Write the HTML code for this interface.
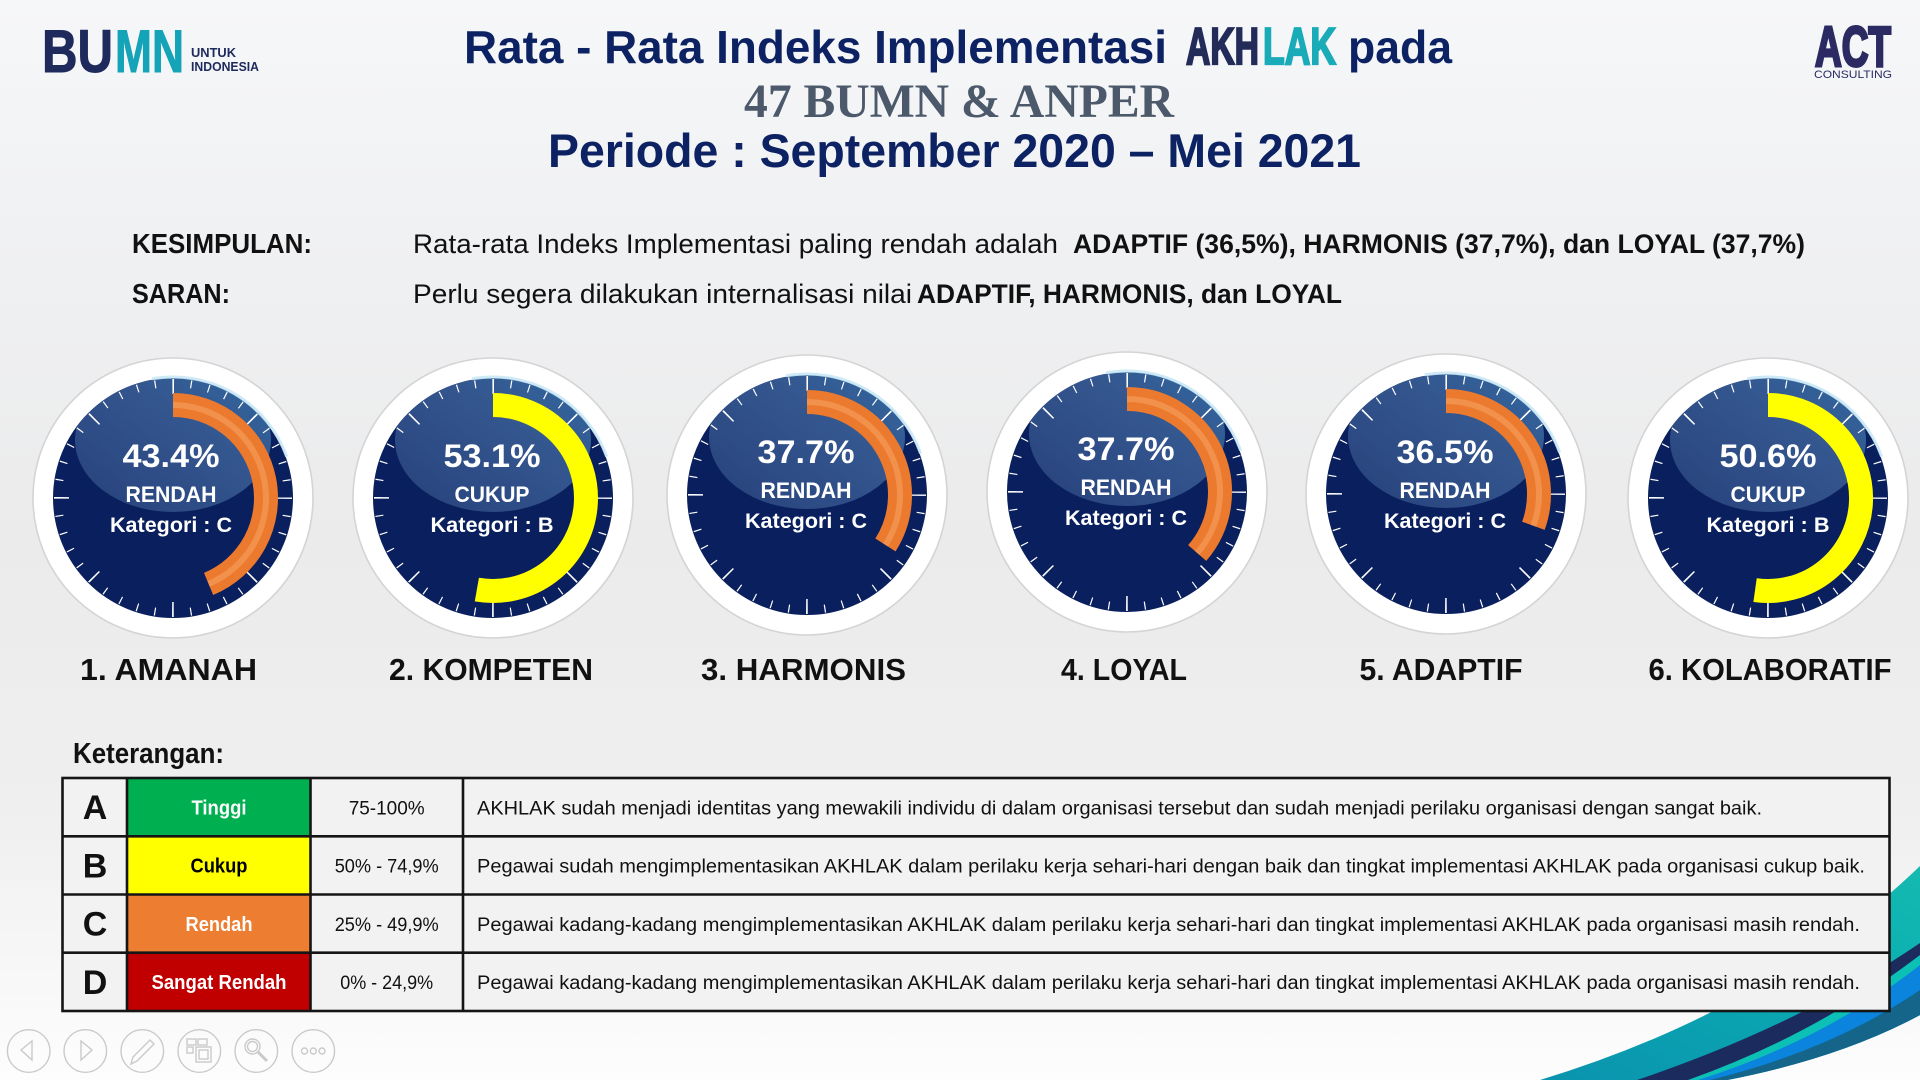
<!DOCTYPE html>
<html>
<head>
<meta charset="utf-8">
<style>
  html,body{margin:0;padding:0;background:#eeeeee;}
  svg{display:block;}
  text{font-family:"Liberation Sans", Arial, sans-serif;}
</style>
</head>
<body>
<svg width="1920" height="1080" viewBox="0 0 1920 1080" xmlns="http://www.w3.org/2000/svg">
  <defs>
    <linearGradient id="bg" x1="0" y1="0" x2="0" y2="1">
      <stop offset="0" stop-color="#f6f7f9"/>
      <stop offset="0.25" stop-color="#eff0f2"/>
      <stop offset="0.5" stop-color="#ebebeb"/>
      <stop offset="0.75" stop-color="#efefef"/>
      <stop offset="1" stop-color="#fdfdfd"/>
    </linearGradient>
    <linearGradient id="hl" x1="0" y1="1" x2="1" y2="0">
      <stop offset="0" stop-color="#27417b"/>
      <stop offset="0.6" stop-color="#34568f"/>
      <stop offset="1" stop-color="#3169a0"/>
    </linearGradient>
    <linearGradient id="teal" x1="0" y1="1" x2="1" y2="0">
      <stop offset="0" stop-color="#0a93ae"/>
      <stop offset="0.6" stop-color="#0aaab2"/>
      <stop offset="1" stop-color="#14bbb0"/>
    </linearGradient>
    <clipPath id="dialclip"><circle cx="0" cy="0" r="120"/></clipPath>
    <g id="gbase">
      <circle r="140" fill="#ffffff" stroke="#d4d4d4" stroke-width="1.6"/>
      <circle r="120" fill="#0a1f5d"/>
      <ellipse cx="0" cy="-58" rx="98" ry="72" fill="url(#hl)" clip-path="url(#dialclip)"/>
      <path d="M-21,-119.2 A121,121 0 0 1 113.7,-41.4" fill="none" stroke="#c6e6f6" stroke-width="3" opacity="0.85"/>
      <circle r="115" fill="none" stroke="#ffffff" stroke-width="8" stroke-dasharray="1.2 16.864" stroke-dashoffset="0.6"/>
      <circle r="111.5" fill="none" stroke="#ffffff" stroke-width="15" stroke-dasharray="1.6 85.972" stroke-dashoffset="0.8"/>
    </g>
  </defs>

  <!-- background -->
  <rect x="0" y="0" width="1920" height="1080" fill="url(#bg)"/>

  <!-- bottom-right swoosh -->
  <path d="M1540,1080 Q1770,1010 1920,866 L1920,1015 Q1840,1058 1727,1080 Z" fill="url(#teal)"/>
  <path d="M1637,1080 Q1800,1025 1920,943 L1920,1015 Q1840,1058 1727,1080 Z" fill="#1b2b5e"/>
  <path d="M1688,1080 Q1815,1035 1920,955 L1920,1015 Q1840,1058 1727,1080 Z" fill="#0cc0b5"/>
  <path d="M1698,1080 Q1825,1040 1920,965 L1920,1015 Q1840,1058 1727,1080 Z" fill="#0a84dc"/>
  <path d="M1710,1080 Q1832,1050 1920,990 L1920,1015 Q1840,1058 1727,1080 Z" fill="#15658a"/>

  <!-- BUMN logo -->
  <text x="42" y="72" font-size="60" font-weight="bold" fill="#1f2a5c" stroke="#1f2a5c" stroke-width="1" textLength="71" lengthAdjust="spacingAndGlyphs">BU</text>
  <text x="115" y="72" font-size="60" font-weight="bold" fill="#15a3b8" stroke="#15a3b8" stroke-width="1" textLength="69" lengthAdjust="spacingAndGlyphs">MN</text>
  <text x="191" y="57" font-size="12.5" font-weight="bold" fill="#1f2a5c" textLength="45" lengthAdjust="spacingAndGlyphs">UNTUK</text>
  <text x="191" y="71" font-size="12.5" font-weight="bold" fill="#1f2a5c" textLength="68" lengthAdjust="spacingAndGlyphs">INDONESIA</text>

  <!-- ACT logo -->
  <text x="1815" y="66" font-size="57" font-weight="bold" fill="#2b2a62" stroke="#2b2a62" stroke-width="3" textLength="76" lengthAdjust="spacingAndGlyphs">ACT</text>
  <text x="1814" y="78" font-size="11" fill="#2b2a62" textLength="78" lengthAdjust="spacingAndGlyphs">CONSULTING</text>

  <!-- Title -->
  <text x="464" y="63" font-size="46" font-weight="bold" fill="#0c2263" textLength="703" lengthAdjust="spacingAndGlyphs">Rata - Rata Indeks Implementasi</text>
  <text x="1186" y="64" font-size="52" font-weight="bold" fill="#232b59" stroke="#232b59" stroke-width="2.2" textLength="73" lengthAdjust="spacingAndGlyphs">AKH</text>
  <text x="1263" y="64" font-size="52" font-weight="bold" fill="#1aabb8" stroke="#1aabb8" stroke-width="2.2" textLength="73" lengthAdjust="spacingAndGlyphs">LAK</text>
  <text x="1348" y="63" font-size="46" font-weight="bold" fill="#0c2263" textLength="104" lengthAdjust="spacingAndGlyphs">pada</text>
  <text x="744" y="117" font-size="48" font-weight="bold" fill="#4c596b" style="font-family:'Liberation Serif','Times New Roman',serif" textLength="430" lengthAdjust="spacingAndGlyphs">47 BUMN &amp; ANPER</text>
  <text x="548" y="167" font-size="47" font-weight="bold" fill="#0c2263" textLength="813" lengthAdjust="spacingAndGlyphs">Periode : September 2020 – Mei 2021</text>

  <!-- Kesimpulan / Saran -->
  <text x="132" y="253" font-size="28" font-weight="bold" fill="#111" textLength="180" lengthAdjust="spacingAndGlyphs">KESIMPULAN:</text>
  <text x="132" y="303" font-size="28" font-weight="bold" fill="#111" textLength="98" lengthAdjust="spacingAndGlyphs">SARAN:</text>
  <text x="413" y="253" font-size="27" fill="#111" textLength="645" lengthAdjust="spacingAndGlyphs">Rata-rata Indeks Implementasi paling rendah adalah</text>
  <text x="1073" y="253" font-size="27" font-weight="bold" fill="#111" textLength="732" lengthAdjust="spacingAndGlyphs">ADAPTIF (36,5%), HARMONIS (37,7%), dan LOYAL (37,7%)</text>
  <text x="413" y="303" font-size="27" fill="#111" textLength="499" lengthAdjust="spacingAndGlyphs">Perlu segera dilakukan internalisasi nilai</text>
  <text x="917" y="303" font-size="27" font-weight="bold" fill="#111" textLength="425" lengthAdjust="spacingAndGlyphs">ADAPTIF, HARMONIS, dan LOYAL</text>

  <!-- Gauges -->
  <g transform="translate(173,498)">
    <use href="#gbase"/>
    <path d="M0,-93 A93,93 0 0 1 35.59,85.92" fill="none" stroke="#ec7a2e" stroke-width="24"/>
    <path d="M0,-93 A93,93 0 0 1 35.59,85.92" fill="none" stroke="#f7a868" stroke-width="6" opacity="0.5"/>
    <g fill="#fff" font-weight="bold" text-anchor="middle">
      <text x="-2" y="-31" font-size="32" textLength="97" lengthAdjust="spacingAndGlyphs">43.4%</text>
      <text x="-2" y="4" font-size="22" textLength="91" lengthAdjust="spacingAndGlyphs">RENDAH</text>
      <text x="-2" y="34" font-size="21" textLength="122" lengthAdjust="spacingAndGlyphs">Kategori : C</text>
    </g>
  </g>
  <g transform="translate(493,498)">
    <use href="#gbase"/>
    <path d="M0,-93 A93,93 0 1 1 -16.15,91.59" fill="none" stroke="#ffff00" stroke-width="24"/>
    <g fill="#fff" font-weight="bold" text-anchor="middle">
      <text x="-1" y="-31" font-size="32" textLength="97" lengthAdjust="spacingAndGlyphs">53.1%</text>
      <text x="-1" y="4" font-size="22" textLength="75" lengthAdjust="spacingAndGlyphs">CUKUP</text>
      <text x="-1" y="34" font-size="21" textLength="123" lengthAdjust="spacingAndGlyphs">Kategori : B</text>
    </g>
  </g>
  <g transform="translate(807,495)">
    <use href="#gbase"/>
    <path d="M0,-93 A93,93 0 0 1 78.44,49.97" fill="none" stroke="#ec7a2e" stroke-width="24"/>
    <path d="M0,-93 A93,93 0 0 1 78.44,49.97" fill="none" stroke="#f7a868" stroke-width="6" opacity="0.5"/>
    <g fill="#fff" font-weight="bold" text-anchor="middle">
      <text x="-1" y="-32" font-size="32" textLength="97" lengthAdjust="spacingAndGlyphs">37.7%</text>
      <text x="-1" y="3" font-size="22" textLength="91" lengthAdjust="spacingAndGlyphs">RENDAH</text>
      <text x="-1" y="33" font-size="21" textLength="122" lengthAdjust="spacingAndGlyphs">Kategori : C</text>
    </g>
  </g>
  <g transform="translate(1127,492)">
    <use href="#gbase"/>
    <path d="M0,-93 A93,93 0 0 1 70.19,61.02" fill="none" stroke="#ec7a2e" stroke-width="24"/>
    <path d="M0,-93 A93,93 0 0 1 70.19,61.02" fill="none" stroke="#f7a868" stroke-width="6" opacity="0.5"/>
    <g fill="#fff" font-weight="bold" text-anchor="middle">
      <text x="-1" y="-32" font-size="32" textLength="97" lengthAdjust="spacingAndGlyphs">37.7%</text>
      <text x="-1" y="3" font-size="22" textLength="91" lengthAdjust="spacingAndGlyphs">RENDAH</text>
      <text x="-1" y="33" font-size="21" textLength="122" lengthAdjust="spacingAndGlyphs">Kategori : C</text>
    </g>
  </g>
  <g transform="translate(1446,494)">
    <use href="#gbase"/>
    <path d="M0,-93 A93,93 0 0 1 87.39,31.81" fill="none" stroke="#ec7a2e" stroke-width="24"/>
    <path d="M0,-93 A93,93 0 0 1 87.39,31.81" fill="none" stroke="#f7a868" stroke-width="6" opacity="0.5"/>
    <g fill="#fff" font-weight="bold" text-anchor="middle">
      <text x="-1" y="-31" font-size="32" textLength="97" lengthAdjust="spacingAndGlyphs">36.5%</text>
      <text x="-1" y="4" font-size="22" textLength="91" lengthAdjust="spacingAndGlyphs">RENDAH</text>
      <text x="-1" y="34" font-size="21" textLength="122" lengthAdjust="spacingAndGlyphs">Kategori : C</text>
    </g>
  </g>
  <g transform="translate(1768,498)">
    <use href="#gbase"/>
    <path d="M0,-93 A93,93 0 1 1 -12.94,92.09" fill="none" stroke="#ffff00" stroke-width="24"/>
    <g fill="#fff" font-weight="bold" text-anchor="middle">
      <text x="0" y="-31" font-size="32" textLength="97" lengthAdjust="spacingAndGlyphs">50.6%</text>
      <text x="0" y="4" font-size="22" textLength="75" lengthAdjust="spacingAndGlyphs">CUKUP</text>
      <text x="0" y="34" font-size="21" textLength="123" lengthAdjust="spacingAndGlyphs">Kategori : B</text>
    </g>
  </g>

  <!-- Gauge labels -->
  <g fill="#111" font-weight="bold" font-size="31" text-anchor="middle">
    <text x="168.5" y="680" textLength="177" lengthAdjust="spacingAndGlyphs">1. AMANAH</text>
    <text x="491" y="680" textLength="204" lengthAdjust="spacingAndGlyphs">2. KOMPETEN</text>
    <text x="803.5" y="680" textLength="205" lengthAdjust="spacingAndGlyphs">3. HARMONIS</text>
    <text x="1124" y="680" textLength="126" lengthAdjust="spacingAndGlyphs">4. LOYAL</text>
    <text x="1441" y="680" textLength="163" lengthAdjust="spacingAndGlyphs">5. ADAPTIF</text>
    <text x="1770" y="680" textLength="243" lengthAdjust="spacingAndGlyphs">6. KOLABORATIF</text>
  </g>

  <!-- Keterangan -->
  <text x="73" y="763" font-size="29" font-weight="bold" fill="#111" textLength="151" lengthAdjust="spacingAndGlyphs">Keterangan:</text>

  <!-- Table -->
  <rect x="62.5" y="778" width="1827" height="233" fill="#f2f2f2"/>
  <rect x="127" y="778" width="183.5" height="58.3" fill="#00b050"/>
  <rect x="127" y="836.3" width="183.5" height="58.2" fill="#ffff00"/>
  <rect x="127" y="894.5" width="183.5" height="58.2" fill="#ed7d31"/>
  <rect x="127" y="952.7" width="183.5" height="58.3" fill="#c00000"/>
  <g stroke="#151515" stroke-width="2.6" fill="none">
    <rect x="62.5" y="778" width="1827" height="233"/>
    <line x1="62.5" y1="836.3" x2="1889.5" y2="836.3"/>
    <line x1="62.5" y1="894.5" x2="1889.5" y2="894.5"/>
    <line x1="62.5" y1="952.7" x2="1889.5" y2="952.7"/>
    <line x1="127" y1="778" x2="127" y2="1011"/>
    <line x1="310.5" y1="778" x2="310.5" y2="1011"/>
    <line x1="463" y1="778" x2="463" y2="1011"/>
  </g>
  <g font-weight="bold" font-size="34" fill="#111" text-anchor="middle">
    <text x="95" y="819">A</text>
    <text x="95" y="877.5">B</text>
    <text x="95" y="935.5">C</text>
    <text x="95" y="994">D</text>
  </g>
  <g font-weight="bold" font-size="20" text-anchor="middle">
    <text x="219" y="814.5" fill="#fff" textLength="55" lengthAdjust="spacingAndGlyphs">Tinggi</text>
    <text x="219" y="872.7" fill="#000" textLength="57" lengthAdjust="spacingAndGlyphs">Cukup</text>
    <text x="219" y="930.9" fill="#fff" textLength="67" lengthAdjust="spacingAndGlyphs">Rendah</text>
    <text x="219" y="989.1" fill="#fff" textLength="135" lengthAdjust="spacingAndGlyphs">Sangat Rendah</text>
  </g>
  <g font-size="19" fill="#111" text-anchor="middle">
    <text x="386.7" y="814.5" textLength="76" lengthAdjust="spacingAndGlyphs">75-100%</text>
    <text x="386.7" y="872.7" textLength="104" lengthAdjust="spacingAndGlyphs">50% - 74,9%</text>
    <text x="386.7" y="930.9" textLength="104" lengthAdjust="spacingAndGlyphs">25% - 49,9%</text>
    <text x="386.7" y="989.1" textLength="93" lengthAdjust="spacingAndGlyphs">0% - 24,9%</text>
  </g>
  <g font-size="19" fill="#111">
    <text x="477" y="814.5" textLength="1285" lengthAdjust="spacingAndGlyphs">AKHLAK sudah menjadi identitas yang mewakili individu di dalam organisasi tersebut dan sudah menjadi perilaku organisasi dengan sangat baik.</text>
    <text x="477" y="872.7" textLength="1388" lengthAdjust="spacingAndGlyphs">Pegawai  sudah mengimplementasikan AKHLAK dalam perilaku kerja sehari-hari dengan baik dan tingkat implementasi AKHLAK pada organisasi cukup baik.</text>
    <text x="477" y="930.9" textLength="1383" lengthAdjust="spacingAndGlyphs">Pegawai kadang-kadang mengimplementasikan AKHLAK dalam perilaku kerja sehari-hari dan tingkat implementasi AKHLAK pada  organisasi masih rendah.</text>
    <text x="477" y="989.1" textLength="1383" lengthAdjust="spacingAndGlyphs">Pegawai kadang-kadang mengimplementasikan AKHLAK dalam perilaku kerja sehari-hari dan tingkat implementasi AKHLAK pada  organisasi masih rendah.</text>
  </g>

  <!-- Nav icons -->
  <g fill="none" stroke="#cacaca" stroke-width="1.4">
    <circle cx="28.7" cy="1051" r="21.3"/>
    <circle cx="85.3" cy="1051" r="21.3"/>
    <circle cx="142.3" cy="1051" r="21.3"/>
    <circle cx="199.3" cy="1051" r="21.3"/>
    <circle cx="256.3" cy="1051" r="21.3"/>
    <circle cx="313.3" cy="1051" r="21.3"/>
    <polygon points="21,1050 32,1041 32,1060"/>
    <polygon points="81,1041 81,1060 92,1050"/>
    <path d="M131,1064 L133,1057 L150,1040 L154,1044 L137,1061 Z"/>
    <rect x="187" y="1039" width="9" height="6"/>
    <rect x="198" y="1039" width="9" height="6"/>
    <rect x="187" y="1047" width="6" height="6"/>
    <rect x="196" y="1047" width="15" height="15"/>
    <rect x="199" y="1050" width="9" height="9"/>
    <circle cx="252.5" cy="1046.5" r="7.5"/>
    <circle cx="252.5" cy="1046.5" r="5"/>
    <path d="M258,1052 L267,1061" stroke-width="3"/>
    <circle cx="304.5" cy="1051" r="3"/>
    <circle cx="313.3" cy="1051" r="3"/>
    <circle cx="322" cy="1051" r="3"/>
  </g>
</svg>
</body>
</html>
